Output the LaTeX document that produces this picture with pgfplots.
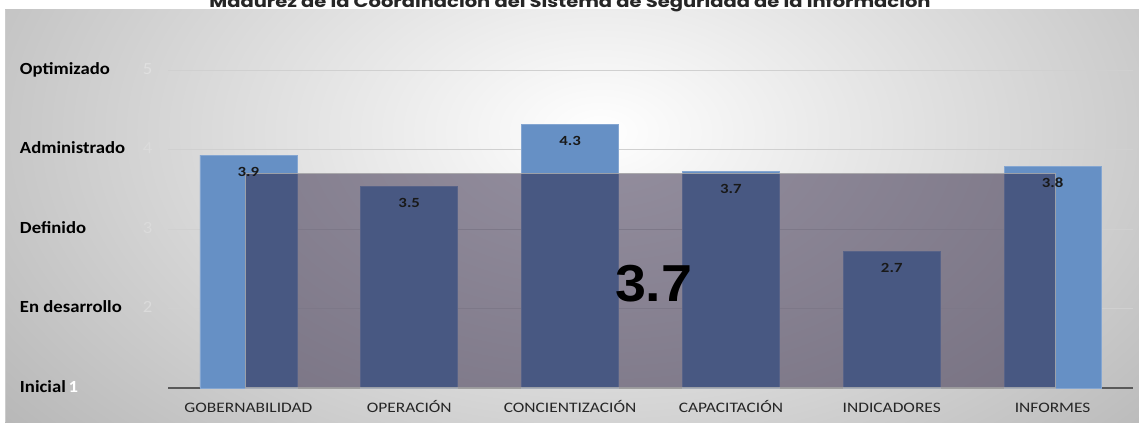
\documentclass[border=0pt]{standalone}
\usepackage{pgfplots}
\pgfplotsset{compat=1.18}
\usepackage{fontspec}
\setmainfont{Carlito}
\newfontfamily\xfont[FakeStretch=1.2]{Carlito}
\newfontfamily\yfont[FakeStretch=1.1]{Carlito}
\newfontfamily\bigfont[FakeStretch=1.07]{Liberation Sans}
\newfontfamily\titlefont[FakeStretch=1.22]{Poppins}
\definecolor{barblue}{HTML}{6690C5}
\definecolor{ovl}{RGB}{44,33,65}
\definecolor{gridc}{HTML}{D0D0D0}
\definecolor{basec}{HTML}{595959}
\pgfplotstableread{
x val
0 3.93
1 3.54
2 4.32
3 3.72
4 2.72
5 3.79
}\datatab
\pgfplotstableread{
x val
-0.02 3.70
5.02 3.70
}\avgtab
\begin{document}
\begin{tikzpicture}[x=1pt,y=1pt]
% background panel
\fill[white] (0,0) rectangle (1139,432);
\begin{scope}
\clip (5,10) rectangle (1139,422);
\shade[inner color=white, outer color=black!28] (600,300) ellipse (760 and 470);
\end{scope}
\draw[black!20, line width=1.5pt] (5.5,10) -- (5.5,422);
% title (partly cut off at top, as in the reference)
\node[anchor=base, font=\titlefont\bfseries\fontsize{16}{18}\selectfont, text=black!85] at (570,424) {Madurez de la Coordinación del Sistema de Seguridad de la Información};
\begin{axis}[
  at={(168pt,44pt)}, anchor=south west,
  scale only axis, width=965pt, height=318pt,
  xmin=-0.5, xmax=5.5, ymin=1, ymax=5,
  axis x line*=bottom, axis y line*=left,
  y axis line style={draw=none},
  x axis line style={draw=basec, line width=1.6pt, -},
  ymajorgrids, major grid style={gridc, line width=0.8pt},
  major tick length=0pt,
  xtick={0,1,2,3,4,5},
  xticklabels={GOBERNABILIDAD,OPERACIÓN,CONCIENTIZACIÓN,CAPACITACIÓN,INDICADORES,INFORMES},
  xticklabel style={font=\xfont\fontsize{14.5}{16}\selectfont, text=black!85, text height=11pt, text depth=3pt, yshift=-10pt},
  ytick={1,2,3,4,5},
  yticklabels={
    \makebox[123pt][l]{\textbf{Inicial}\,\textcolor{white}{\textbf{1}}}\phantom{1},
    \makebox[123pt][l]{\textbf{En desarrollo}}\textcolor{white!86!black}{2},
    \makebox[123pt][l]{\textbf{Definido}}\textcolor{white!86!black}{3},
    \makebox[123pt][l]{\textbf{Administrado}}\textcolor{white!86!black}{4},
    \makebox[123pt][l]{\textbf{Optimizado}}\textcolor{white!88!black}{5}},
  yticklabel style={font=\yfont\fontsize{17}{19}\selectfont, text=black, anchor=east, xshift=-12pt, text height=11pt, text depth=3pt},
  clip=false,
]
\addplot[ybar, bar width=97pt, bar shift=0pt, fill=barblue, draw=barblue!80!white, line width=0.6pt]
  table[x=x, y=val] {\datatab};
\addplot[draw=white!70!black, line width=1.2pt, fill=ovl, fill opacity=0.5, draw opacity=0.8]
  table[x=x, y=val] {\avgtab} \closedcycle;
\addplot[ybar, bar width=97pt, bar shift=0pt, draw=none, fill=none,
  nodes near coords={\pgfmathprintnumber[fixed, precision=1, fixed zerofill, assume math mode=true]{\pgfplotspointmeta}},
  point meta=y,
  every node near coord/.append style={anchor=center, yshift=-17pt, font=\xfont\bfseries\fontsize{14}{16}\selectfont, text=black!90}]
  table[x=x, y=val] {\datatab};
\addplot[draw=none, mark=none,
  nodes near coords={\bigfont\bfseries\fontsize{52}{56}\selectfont 3.7},
  every node near coord/.append style={anchor=center, text=black}]
  coordinates {(2.52,2.31)};
\end{axis}
\pgfresetboundingbox
\path[use as bounding box] (0,0) rectangle (1139,432);
\end{tikzpicture}
\end{document}
